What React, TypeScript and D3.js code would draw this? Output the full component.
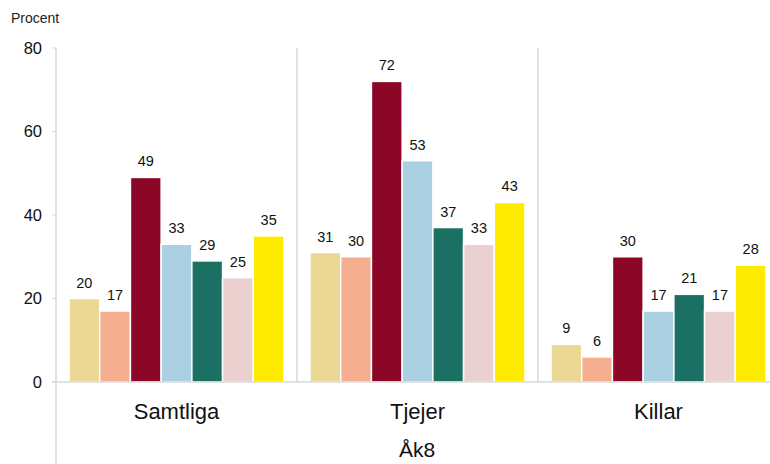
import React from "react";
import * as d3 from "d3";

const groups = ["Samtliga", "Tjejer", "Killar"];
const series = ["s1", "s2", "s3", "s4", "s5", "s6", "s7"];
const colors = ["#EBD894", "#F6AE91", "#8C0727", "#ABD0E2", "#1A7163", "#EBD0D0", "#FFEB00"];
const values: number[][] = [
  [20, 17, 49, 33, 29, 25, 35],
  [31, 30, 72, 53, 37, 33, 43],
  [9, 6, 30, 17, 21, 17, 28],
];
const yTicks = [0, 20, 40, 60, 80];
const outerLabel = "Åk8";
const yTitle = "Procent";

const W = 770;
const H = 464;
const left = 56;
const right = 779;
const top = 48;
const baseY = 382;
const font = "'Liberation Sans', Arial, sans-serif";

export default function App() {
  const y = d3.scaleLinear().domain([0, 80]).range([baseY, top]);
  const x0 = d3.scaleBand<string>().domain(groups).range([left, right]).paddingInner(0).paddingOuter(0);
  const x1 = d3
    .scaleBand<string>()
    .domain(series)
    .range([13, x0.bandwidth() - 13])
    .paddingInner(0);

  return (
    <svg width={W} height={H} style={{ position: "absolute", left: 0, top: 0, background: "#fff" }}>
      <text x={11} y={23} fontFamily={font} fontSize={14} fill="#222">
        {yTitle}
      </text>
      {yTicks.map((t) => (
        <g key={t}>
          <line x1={52} x2={left} y1={y(t)} y2={y(t)} stroke="#d9d9d9" />
          <text x={42} y={y(t)} dy="0.36em" textAnchor="end" fontFamily={font} fontSize={16.5} fill="#111">
            {t}
          </text>
        </g>
      ))}
      <line x1={left} x2={left} y1={y(80)} y2={H} stroke="#d9d9d9" strokeWidth={1.5} />
      {groups.slice(1).map((g) => (
        <line key={g} x1={x0(g)!} x2={x0(g)!} y1={y(80)} y2={baseY} stroke="#d9d9d9" strokeWidth={1.5} />
      ))}
      {groups.map((g, gi) => (
        <g key={g} transform={`translate(${x0(g)},0)`}>
          {series.map((s, si) => {
            const v = values[gi][si];
            const bx = x1(s)!;
            return (
              <g key={s}>
                <rect
                  x={bx}
                  y={y(v)}
                  width={x1.bandwidth()}
                  height={baseY - y(v)}
                  fill={colors[si]}
                  stroke="#fff"
                  strokeWidth={1.5}
                />
                <text
                  x={bx + x1.bandwidth() / 2}
                  y={y(v) - 11}
                  textAnchor="middle"
                  fontFamily={font}
                  fontSize={14.5}
                  fill="#111"
                >
                  {v}
                </text>
              </g>
            );
          })}
          <text
            x={x0.bandwidth() / 2}
            y={419}
            textAnchor="middle"
            fontFamily={font}
            fontSize={22}
            fill="#111"
          >
            {g}
          </text>
        </g>
      ))}
      <line x1={52} x2={W} y1={baseY} y2={baseY} stroke="#d9d9d9" strokeWidth={1.5} />
      <text x={417} y={457} textAnchor="middle" fontFamily={font} fontSize={21} fill="#111">
        {outerLabel}
      </text>
    </svg>
  );
}
